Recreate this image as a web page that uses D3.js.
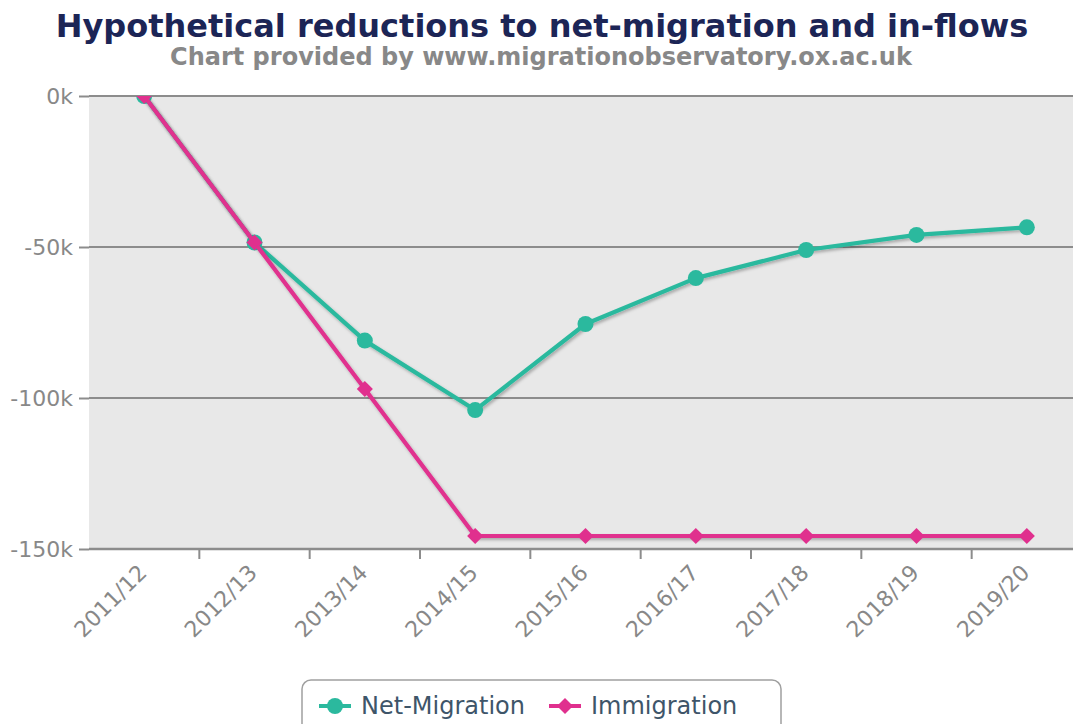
<!DOCTYPE html>
<html>
<head>
<meta charset="utf-8">
<script src="https://cdn.jsdelivr.net/npm/d3@7/dist/d3.min.js"></script>
<style>
  html, body { margin: 0; padding: 0; background: #fff; }
  svg { display: block; font-family: "DejaVu Sans", sans-serif; }
</style>
</head>
<body>
<svg id="chart" width="1073" height="724"></svg>
<script>
// Financial years on the horizontal axis
const years = ["2011/12", "2012/13", "2013/14", "2014/15", "2015/16", "2016/17", "2017/18", "2018/19", "2019/20"];
// Reduction relative to 2011/12, in thousands
const netMigration = [0, -48.5, -81, -104, -75.5, -60.3, -51, -46, -43.5];
const immigration = [0, -48.5, -97, -145.7, -145.7, -145.7, -145.7, -145.7, -145.7];
const yTicks = [0, -50, -100, -150];
const seriesNames = ["Net-Migration", "Immigration"];
const seriesColors = ["#2bb99e", "#e0308e"];

const svg = d3.select("#chart");
const plot = { left: 89, right: 1082, top: 96, bottom: 549 };

const x = d3.scaleBand().domain(years).range([plot.left, plot.right]);
const y = d3.scaleLinear().domain([-150, 0]).range([plot.bottom, plot.top]);

const defs = svg.append("defs");
// Shadow under the series lines
const f = defs.append("filter").attr("id", "shadow")
  .attr("x", "-5%").attr("y", "-5%").attr("width", "110%").attr("height", "115%");
f.append("feDropShadow").attr("dx", 1.5).attr("dy", 2).attr("stdDeviation", 1.6)
  .attr("flood-color", "#000").attr("flood-opacity", 0.28);
// Series are clipped to the plot area
defs.append("clipPath").attr("id", "plotClip").append("rect")
  .attr("x", plot.left).attr("y", plot.top)
  .attr("width", plot.right - plot.left).attr("height", plot.bottom - plot.top + 10);

// Titles
svg.append("text").attr("x", 542).attr("y", 37).attr("text-anchor", "middle")
  .attr("font-size", 32).attr("font-weight", "bold").attr("fill", "#1c2556")
  .text("Hypothetical reductions to net-migration and in-flows");
svg.append("text").attr("x", 541).attr("y", 65).attr("text-anchor", "middle")
  .attr("font-size", 24).attr("font-weight", "bold").attr("fill", "#888888")
  .text("Chart provided by www.migrationobservatory.ox.ac.uk");

// Plot background
svg.append("rect").attr("x", plot.left).attr("y", plot.top)
  .attr("width", plot.right - plot.left).attr("height", plot.bottom - plot.top)
  .attr("fill", "#e8e8e8");

// Horizontal gridlines and y labels
const yAxis = svg.append("g").attr("transform", `translate(${plot.left},0)`)
  .call(d3.axisLeft(y).tickValues(yTicks).tickSize(10).tickPadding(6)
    .tickFormat(d => d + "k"));
yAxis.select(".domain").remove();
yAxis.selectAll(".tick line").attr("stroke", "#8c8c8c").attr("stroke-width", 2);
yAxis.selectAll(".tick text").attr("fill", "#888888").attr("font-size", 22)
  .attr("font-family", "DejaVu Sans, sans-serif").attr("dy", "0.35em");

svg.append("g").selectAll("line").data(yTicks).join("line")
  .attr("x1", plot.left).attr("x2", plot.right)
  .attr("y1", d => y(d)).attr("y2", d => y(d))
  .attr("stroke", "#8c8c8c").attr("stroke-width", d => d === -150 ? 2.5 : 2);

// X axis with ticks on category boundaries
const xAxis = svg.append("g").attr("transform", `translate(0,${plot.bottom})`);
xAxis.selectAll("line").data(years.slice(1)).join("line")
  .attr("x1", d => x(d)).attr("x2", d => x(d)).attr("y1", 0).attr("y2", 10)
  .attr("stroke", "#8c8c8c").attr("stroke-width", 2);
xAxis.selectAll("text").data(years).join("text")
  .attr("transform", d => `translate(${x(d) + x.bandwidth() / 2 + 4},${25}) rotate(-45)`)
  .attr("text-anchor", "end").attr("font-size", 22).attr("fill", "#888888")
  .text(d => d);

// Series
const cx = d => x(d) + x.bandwidth() / 2;
const line = d3.line().x((v, i) => cx(years[i])).y(v => y(v));
const diamond = d3.symbol().type(d3.symbolDiamond2).size(165);

const gSeries = svg.append("g").attr("clip-path", "url(#plotClip)");
[netMigration, immigration].forEach((vals, si) => {
  const g = gSeries.append("g");
  g.append("path").datum(vals).attr("d", line)
    .attr("fill", "none").attr("stroke", seriesColors[si]).attr("stroke-width", 4.2)
    .attr("stroke-linejoin", "round").attr("filter", "url(#shadow)");
  if (si === 0) {
    // circles for net-migration
    g.selectAll("circle").data(vals).join("circle")
      .attr("cx", (v, i) => cx(years[i])).attr("cy", v => y(v)).attr("r", 8)
      .attr("fill", seriesColors[si]);
  } else {
    // diamonds for immigration
    g.selectAll(".mk").data(vals).join("path").attr("class", "mk")
      .attr("d", diamond)
      .attr("transform", (v, i) => `translate(${cx(years[i])},${y(v)})`)
      .attr("fill", seriesColors[si]);
  }
});

// Legend
const legend = svg.append("g");
legend.append("rect").attr("x", 302).attr("y", 680).attr("width", 479).attr("height", 60)
  .attr("rx", 9).attr("fill", "#fff").attr("stroke", "#a0a0a0").attr("stroke-width", 1.5);
const items = [{ x: 319, tx: 361 }, { x: 549, tx: 591 }];
items.forEach((it, i) => {
  const g = legend.append("g");
  g.append("line").attr("x1", it.x).attr("x2", it.x + 32).attr("y1", 706).attr("y2", 706)
    .attr("stroke", seriesColors[i]).attr("stroke-width", 4);
  if (i === 0) {
    g.append("circle").attr("cx", it.x + 16).attr("cy", 706).attr("r", 8).attr("fill", seriesColors[i]);
  } else {
    g.append("path").attr("d", diamond).attr("transform", `translate(${it.x + 16},706)`)
      .attr("fill", seriesColors[i]);
  }
  g.append("text").attr("x", it.tx).attr("y", 714).attr("font-size", 24).attr("fill", "#3e5569")
    .text(seriesNames[i]);
});
</script>
</body>
</html>
